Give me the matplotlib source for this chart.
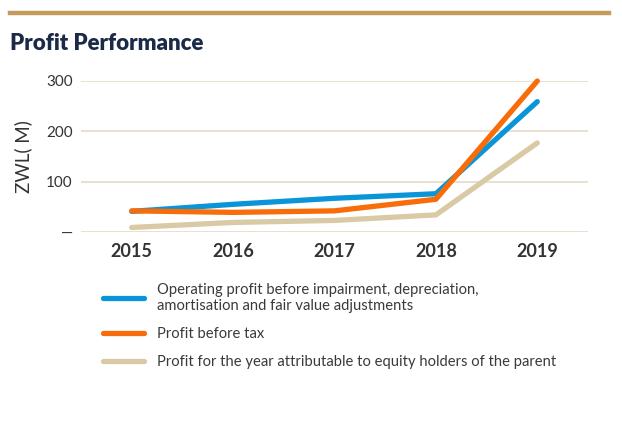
import matplotlib.pyplot as plt

# datos (ZWL millones)
years = ['2015', '2016', '2017', '2018', '2019']
operating_profit = [41, 55, 67, 76, 259]
profit_before_tax = [42, 39, 42, 65, 300]
profit_attributable = [9, 19, 23, 34, 177]

y_ticks = [0, 100, 200, 300]
y_tick_labels = ['—', '100', '200', '300']

series_labels = [
    'Operating profit before impairment, depreciation,\namortisation and fair value adjustments',
    'Profit before tax',
    'Profit for the year attributable to equity holders of the parent',
]
colors = ['#0a95d9', '#f86c0a', '#d9caa5']

plt.rcParams['font.family'] = ['Lato', 'DejaVu Sans']

fig = plt.figure(figsize=(6.22, 4.24), dpi=100)
ax = fig.add_axes([81 / 622, 1 - 232 / 424, 507 / 622, 151 / 424])

# linea dorada superior y titulo
fig.add_artist(plt.Line2D([10 / 622, 609 / 622], [1 - 13 / 424, 1 - 13 / 424],
                          color='#c49b5c', linewidth=3.2))
fig.text(10 / 622, 1 - 43 / 424, 'Profit Performance', fontsize=16,
         fontweight='heavy', color='#1b2a47', va='center', ha='left')

x = list(range(len(years)))
series = [operating_profit, profit_before_tax, profit_attributable]
handles = []
for vals, col, lab in zip(series, colors, series_labels):
    h, = ax.plot(x, vals, color=col, linewidth=3.8, solid_capstyle='round',
                 solid_joinstyle='round', clip_on=False, label=lab)
    handles.append(h)
# orden de dibujo: beige abajo, azul, naranja arriba
handles[2].set_zorder(2)
handles[0].set_zorder(3)
handles[1].set_zorder(4)

ax.set_xlim(-0.5, 4.5)
ax.set_ylim(0, 300)
ax.set_yticks(y_ticks)
ax.set_yticklabels(y_tick_labels)
ax.set_xticks(x)
ax.set_xticklabels(years, fontweight='bold', fontsize=13, color='#333333')
ax.tick_params(axis='y', length=0, pad=6, labelsize=11, labelcolor='#333333')
ax.tick_params(axis='x', length=0, pad=8)

ax.grid(axis='y', color='#e4dbc6', linewidth=1.2)
ax.set_axisbelow(True)
for s in ax.spines.values():
    s.set_visible(False)

ax.set_ylabel('ZWL( M)', fontsize=13.5, color='#333333', labelpad=10)

leg = fig.legend(handles=handles, labels=series_labels, loc='upper left',
                 bbox_to_anchor=(97 / 622, 1 - 277 / 424), frameon=False,
                 fontsize=10.6, handlelength=2.8, handletextpad=0.9,
                 labelspacing=0.95, borderaxespad=0)
for t in leg.get_texts():
    t.set_color('#3a3a3a')

fig.savefig('out.png', dpi=100)
